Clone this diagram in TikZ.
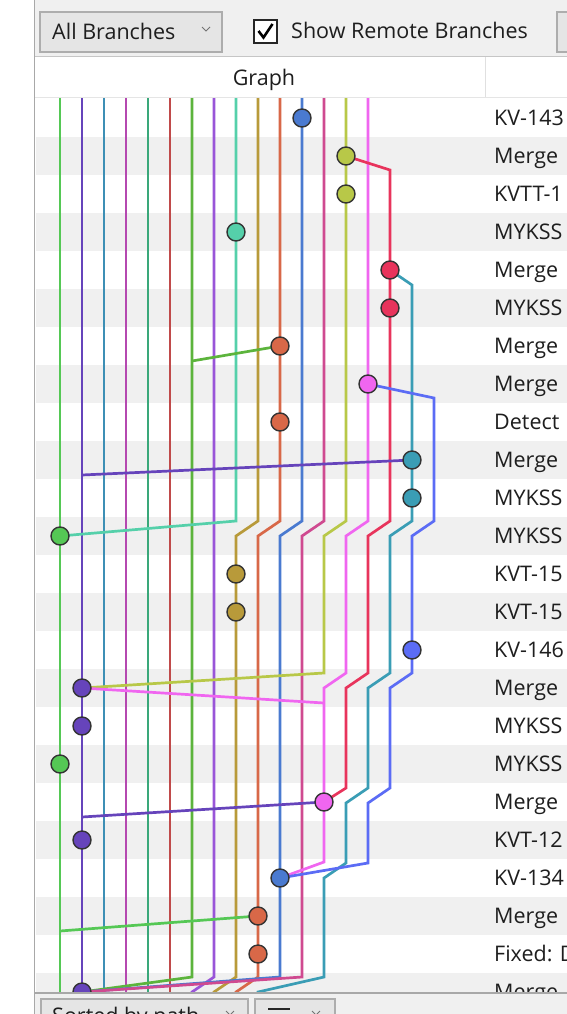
\documentclass[tikz,border=0pt]{standalone}
\usepackage{fontspec}
\setmainfont{Open Sans}
\definecolor{c0}{HTML}{55C855}
\definecolor{c1}{HTML}{6644BB}
\definecolor{c2}{HTML}{3D8FB5}
\definecolor{c3}{HTML}{B548B0}
\definecolor{c4}{HTML}{3AA87A}
\definecolor{c5}{HTML}{C04A4A}
\definecolor{c6}{HTML}{5CB43C}
\definecolor{c7}{HTML}{9955D8}
\definecolor{c8}{HTML}{55D0AA}
\definecolor{c9}{HTML}{B89A3A}
\definecolor{c10}{HTML}{D86848}
\definecolor{c11}{HTML}{4A7AD0}
\definecolor{c12}{HTML}{CF4A90}
\definecolor{c13}{HTML}{B8C848}
\definecolor{c14}{HTML}{F066F0}
\definecolor{c15}{HTML}{E8345C}
\definecolor{c16}{HTML}{3A9DB5}
\definecolor{c17}{HTML}{5B6CF5}
\definecolor{panel}{HTML}{F0F0F0}
\definecolor{stripe}{HTML}{F0F0F0}
\definecolor{boxfill}{HTML}{E5E5E5}
\definecolor{boxline}{HTML}{ADADAD}
\definecolor{sepline}{HTML}{A8A8A8}
\definecolor{txt}{HTML}{1E1E1E}
\begin{document}
\begin{tikzpicture}[x=1pt,y=-1pt,
  lane/.style={line width=2.7pt},
  dot/.style={circle,draw=black!80,line width=1.4pt,minimum size=18pt,inner sep=0pt},
  rowtext/.style={anchor=base west,inner sep=0pt,font=\fontsize{21.5}{26}\selectfont,text=txt},
  uitext/.style={anchor=base west,inner sep=0pt,font=\fontsize{21.5}{26}\selectfont,text=txt},
  combo/.style={fill=boxfill,draw=boxline,line width=1.2pt}]
\clip (0,0) rectangle (567,1014);
% backgrounds
\fill[white] (0,0) rectangle (567,1014);
\fill[panel] (35,0) rectangle (567,56);
\foreach \i in {1,3,...,23}
  \fill[stripe] (36,{99+38*\i}) rectangle (567,{137+38*\i});
% dot positions
\coordinate (d0) at (302,118);
\coordinate (d1) at (346,156);
\coordinate (d2) at (346,194);
\coordinate (d3) at (236,232);
\coordinate (d4) at (390,270);
\coordinate (d5) at (390,308);
\coordinate (d6) at (280,346);
\coordinate (d7) at (368,384);
\coordinate (d8) at (280,422);
\coordinate (d9) at (412,460);
\coordinate (d10) at (412,498);
\coordinate (d11) at (60,536);
\coordinate (d12) at (236,574);
\coordinate (d13) at (236,612);
\coordinate (d14) at (412,650);
\coordinate (d15) at (82,688);
\coordinate (d16) at (82,726);
\coordinate (d17) at (60,764);
\coordinate (d18) at (324,802);
\coordinate (d19) at (82,840);
\coordinate (d20) at (280,878);
\coordinate (d21) at (258,916);
\coordinate (d22) at (258,954);
\coordinate (d23) at (82,992);
% lanes
\draw[lane,c0] (60,98) -- (60,1005);
\draw[lane,c1] (82,98) -- (82,1005);
\draw[lane,c2] (104,98) -- (104,1005);
\draw[lane,c3] (126,98) -- (126,1005);
\draw[lane,c4] (148,98) -- (148,1005);
\draw[lane,c5] (170,98) -- (170,1005);
\draw[lane,c6] (192,98) -- (192,977) -- (d23);
\draw[lane,c7] (214,98) -- (214,977) -- (192,992) -- (192,1005);
\draw[lane,c8] (236,98) -- (236,521) -- (d11);
\draw[lane,c9] (258,98) -- (258,521) -- (236,536) -- (236,977) -- (214,992) -- (214,1005);
\draw[lane,c10] (280,98) -- (280,521) -- (258,536) -- (258,977) -- (236,992) -- (236,1005);
\draw[lane,c11] (302,98) -- (302,521) -- (280,536) -- (280,977) -- (d23);
\draw[lane,c12] (324,98) -- (324,521) -- (302,536) -- (302,977) -- (d23);
\draw[lane,c13] (346,98) -- (346,521) -- (324,536) -- (324,673) -- (d15);
\draw[lane,c14] (368,98) -- (368,521) -- (346,536) -- (346,673) -- (324,688) -- (324,862) -- (d20);
\draw[lane,c15] (d1) -- (390,170) -- (390,521) -- (368,536) -- (368,673) -- (346,688) -- (346,788) -- (d18);
\draw[lane,c16] (d4) -- (412,285) -- (412,521) -- (390,536) -- (390,673) -- (368,688) -- (368,788) -- (346,803) -- (346,863) -- (324,878) -- (324,977) -- (258,992) -- (258,1005);
\draw[lane,c17] (d7) -- (434,398) -- (434,521) -- (412,536) -- (412,673) -- (390,688) -- (390,788) -- (368,803) -- (368,863) -- (d20);
% merge connectors
\draw[lane,c6] (d6) -- (192,361);
\draw[lane,c1] (d9) -- (82,475);
\draw[lane,c14] (d15) -- (324,703);
\draw[lane,c1] (d18) -- (82,817);
\draw[lane,c0] (d21) -- (60,931);
% commit dots
\node[dot,fill=c11] (n0) at (d0) {};
\node[dot,fill=c13] (n1) at (d1) {};
\node[dot,fill=c13] (n2) at (d2) {};
\node[dot,fill=c8] (n3) at (d3) {};
\node[dot,fill=c15] (n4) at (d4) {};
\node[dot,fill=c15] (n5) at (d5) {};
\node[dot,fill=c10] (n6) at (d6) {};
\node[dot,fill=c14] (n7) at (d7) {};
\node[dot,fill=c10] (n8) at (d8) {};
\node[dot,fill=c16] (n9) at (d9) {};
\node[dot,fill=c16] (n10) at (d10) {};
\node[dot,fill=c0] (n11) at (d11) {};
\node[dot,fill=c9] (n12) at (d12) {};
\node[dot,fill=c9] (n13) at (d13) {};
\node[dot,fill=c17] (n14) at (d14) {};
\node[dot,fill=c1] (n15) at (d15) {};
\node[dot,fill=c1] (n16) at (d16) {};
\node[dot,fill=c0] (n17) at (d17) {};
\node[dot,fill=c14] (n18) at (d18) {};
\node[dot,fill=c1] (n19) at (d19) {};
\node[dot,fill=c11] (n20) at (d20) {};
\node[dot,fill=c10] (n21) at (d21) {};
\node[dot,fill=c10] (n22) at (d22) {};
\node[dot,fill=c1] (n23) at (d23) {};
% message column
\foreach \i/\t in {0/KV-143,1/Merge,2/KVTT-1,3/MYKSS,4/Merge,5/MYKSS,6/Merge,7/Merge,8/Detect,9/Merge,10/MYKSS,11/MYKSS,12/KVT-15,13/KVT-15,14/KV-146,15/Merge,16/MYKSS,17/MYKSS,18/Merge,19/KVT-12,20/KV-134,21/Merge,22/Fixed: D,23/Merge}
  \node[rowtext] (t\i) at (494,{125.7+38*\i}) {\t};
% header
\fill[white] (35,57) rectangle (567,97);
\draw[boxline!70,line width=1pt] (35,56.5) -- (567,56.5);
\draw[black!10,line width=1pt] (35,97.5) -- (567,97.5);
\draw[black!12,line width=1pt] (485,57) -- (485,97);
\node[uitext,anchor=base] (hdr) at (264,86) {Graph};
% toolbar
\draw[combo] (40,12) rectangle (222,52);
\node[uitext] (allbr) at (52,40) {All Branches};
\draw[black!55,line width=1pt] (202,27) -- (206,31) -- (210,27);
\draw[fill=white,draw=black!85,line width=1.3pt] (254,20) rectangle (277,43);
\draw[black,line width=2.6pt] (258.5,31) -- (263.5,37.5) -- (272.5,24);
\node[uitext] (remote) at (291,38.5) {Show Remote Branches};
\draw[combo] (557,12) rectangle (590,52);
% bottom panel
\fill[panel] (35,993) rectangle (567,1014);
\draw[sepline,line width=1.3pt] (35,993) -- (567,993);
\draw[combo] (41,999) rectangle (248,1040);
\node[uitext] (sortby) at (52,1023) {Sorted by path};
\draw[black!55,line width=1pt] (226,1011) -- (230,1015) -- (234,1011);
\draw[combo] (255,999) rectangle (335,1040);
\draw[black!85,line width=2pt] (268,1009) -- (290,1009);
\draw[black!55,line width=1pt] (312,1011) -- (316,1015) -- (320,1011);
% left strip
\fill[white] (0,0) rectangle (34,1014);
\draw[sepline,line width=1.5pt] (34.5,0) -- (34.5,1014);
\end{tikzpicture}
\end{document}
